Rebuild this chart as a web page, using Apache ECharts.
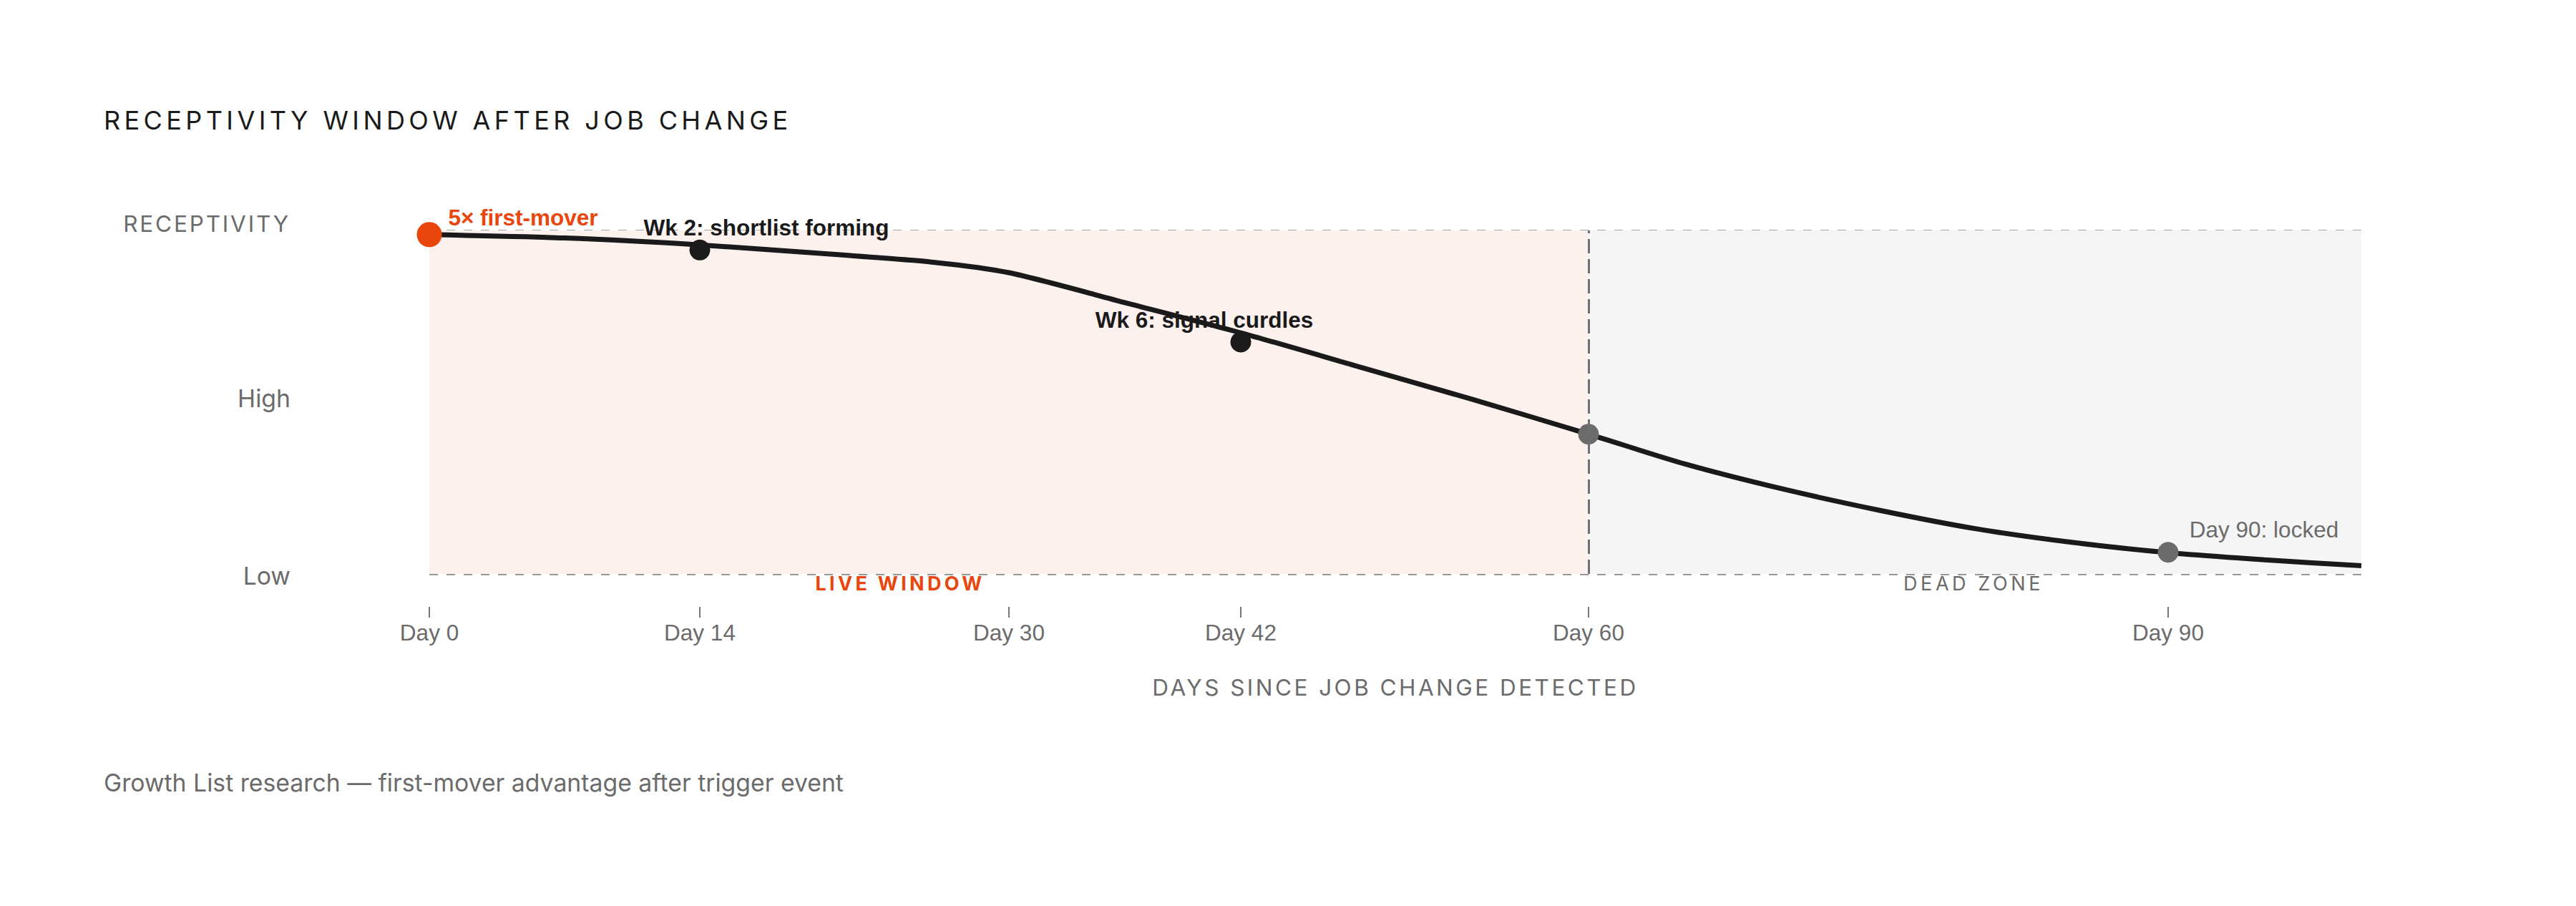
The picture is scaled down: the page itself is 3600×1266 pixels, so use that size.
<!DOCTYPE html>
<html>
<head>
<meta charset="utf-8">
<title>Receptivity window after job change</title>
<script src="https://cdn.jsdelivr.net/npm/echarts@6/dist/echarts.min.js"></script>
<style>
  html, body { margin: 0; padding: 0; background: #fff; }
  #chart { width: 3600px; height: 1266px; }
</style>
</head>
<body>
<div id="chart"></div>
<script>
// curve (day -> receptivity, 0 = Low, 50 = High, 100 = top)
const curveDays   = [0, 7, 14, 21, 26, 30, 36, 42, 48, 54, 60, 65, 70, 75, 80, 85, 90, 95, 100];
const curveValues = [98.8, 97.8, 95.8, 93.0, 90.8, 87.7, 79.0, 70.2, 60.5, 50.8, 40.7, 32.0, 24.8, 18.6, 13.2, 9.2, 6.2, 4.1, 2.4];

// highlighted points
const markerDays   = [0, 14, 42, 60, 90];
const markerValues = [98.8, 94.3, 67.5, 40.7, 6.3];
const markerLabels = ['5× first-mover', 'Wk 2: shortlist forming', 'Wk 6: signal curdles', '', 'Day 90: locked'];

const tickDays = [0, 14, 30, 42, 60, 90];
const zones = [
  {name: 'LIVE WINDOW', from: 0, to: 60},
  {name: 'DEAD ZONE', from: 60, to: 100}
];

const RED = '#e8460d';
const INK = '#1a1a1a';
const GREY = '#6b6b6b';
const SANS = 'Inter';
const ARIAL = 'Liberation Sans';

// per marker look
const markerStyle = [
  {color: RED,  size: 35, dx: 131, dy: -24, text: RED,  weight: 'bold'},
  {color: INK,  size: 29, dx: 93,  dy: -31, text: INK,  weight: 'bold'},
  {color: INK,  size: 29, dx: -51, dy: -31, text: INK,  weight: 'bold'},
  {color: GREY, size: 29, dx: 0,   dy: 0,   text: GREY, weight: 'normal'},
  {color: GREY, size: 29, dx: 134, dy: -32, text: GREY, weight: 'normal'}
];
const zoneStyle = [
  {fill: '#fdf1ee', text: RED,  weight: 'bold',   dx: -152},
  {fill: '#f5f5f5', text: GREY, weight: 'normal', dx: -2}
];

// letter spacing for the tracked caps texts (svg renderer)
const tracking = {
  'RECEPTIVITY WINDOW AFTER JOB CHANGE': '0.15em',
  'RECEPTIVITY': '0.09em',
  'DAYS SINCE JOB CHANGE DETECTED': '0.11em',
  'LIVE WINDOW': '0.16em',
  'DEAD ZONE': '0.17em'
};

const yLabelText = {fontFamily: SANS, fontSize: 33.75, color: GREY};

const chart = echarts.init(document.getElementById('chart'), null, {renderer: 'svg', width: 3600, height: 1266});

const option = {
  animation: false,
  backgroundColor: '#fff',
  title: {
    text: 'RECEPTIVITY WINDOW AFTER JOB CHANGE',
    left: 145,
    top: 148,
    padding: 0,
    textStyle: {fontFamily: SANS, fontSize: 36, fontWeight: 400, color: INK, lineHeight: 40}
  },
  graphic: [{
    type: 'text',
    x: 145,
    y: 1093,
    style: {
      text: 'Growth List research — first-mover advantage after trigger event',
      fontFamily: SANS,
      fontSize: 33.75,
      fill: GREY,
      verticalAlign: 'middle'
    }
  }],
  grid: [
    {left: 600, right: 300, top: 322, bottom: 464},
    // thin strip that only carries the day ticks below the plot
    {left: 600, right: 300, top: 847, height: 1}
  ],
  xAxis: [
    {
      type: 'value',
      gridIndex: 0,
      min: 0,
      max: 100,
      axisLine: {show: false},
      axisTick: {show: false},
      axisLabel: {show: false},
      splitLine: {show: false}
    },
    {
      type: 'value',
      gridIndex: 1,
      min: 0,
      max: 100,
      axisLine: {show: false},
      splitLine: {show: false},
      axisTick: {show: true, customValues: tickDays, length: 15, lineStyle: {color: '#777', width: 2}},
      axisLabel: {
        customValues: tickDays,
        formatter: 'Day {value}',
        margin: 20,
        fontFamily: ARIAL,
        fontSize: 31.5,
        color: GREY
      },
      name: 'DAYS SINCE JOB CHANGE DETECTED',
      nameLocation: 'middle',
      nameGap: 96,
      nameTextStyle: {fontFamily: SANS, fontSize: 31.5, color: GREY}
    }
  ],
  yAxis: [
    {
      type: 'value',
      gridIndex: 0,
      min: 0,
      max: 100,
      interval: 50,
      z: 1,
      axisLine: {show: false},
      axisTick: {show: false},
      axisLabel: {
        margin: 194,
        formatter: v => (v === 50 ? '{hi|High}' : v === 0 ? '{lo|Low}' : ''),
        rich: {
          hi: Object.assign({padding: [0, 0, 12, 0]}, yLabelText),
          lo: Object.assign({padding: [4, 0, 0, 0]}, yLabelText)
        }
      },
      splitLine: {lineStyle: {color: '#8a8a8a', width: 2.5, type: [12, 12]}},
      name: 'RECEPTIVITY',
      nameLocation: 'end',
      nameGap: 10,
      nameTextStyle: {
        fontFamily: SANS, fontSize: 31.5, color: GREY,
        align: 'right', verticalAlign: 'middle', padding: [0, 194, 0, 0]
      }
    },
    {
      type: 'value',
      gridIndex: 1,
      show: false
    }
  ],
  series: [
    {
      // zone backgrounds and the day 60 cut-off
      type: 'line',
      z: 0,
      data: [],
      silent: true,
      markArea: {
        silent: true,
        data: zones.map((zn, i) => [
          {
            xAxis: zn.from, yAxis: 0,
            itemStyle: {color: zoneStyle[i].fill},
            label: {
              show: true, formatter: zn.name, position: 'bottom', distance: 0,
              offset: [zoneStyle[i].dx, 0],
              fontFamily: SANS, fontSize: 27, fontWeight: zoneStyle[i].weight, color: zoneStyle[i].text
            }
          },
          {xAxis: zn.to, yAxis: 100}
        ])
      },
      markLine: {
        silent: true,
        symbol: 'none',
        label: {show: false},
        lineStyle: {color: '#707070', width: 3, type: [20, 8]},
        data: [{xAxis: 60}]
      }
    },
    {
      type: 'line',
      z: 2,
      smooth: 0.25,
      showSymbol: false,
      lineStyle: {color: INK, width: 7},
      data: curveDays.map((d, i) => [d, curveValues[i]])
    },
    {
      type: 'scatter',
      z: 3,
      data: markerDays.map((d, i) => {
        const s = markerStyle[i];
        return {
          value: [d, markerValues[i]],
          symbolSize: s.size,
          itemStyle: {color: s.color, opacity: 1},
          label: {
            show: markerLabels[i] !== '',
            formatter: markerLabels[i],
            position: 'inside',
            offset: [s.dx, s.dy],
            fontFamily: ARIAL,
            fontSize: 31.5,
            fontWeight: s.weight,
            color: s.text
          }
        };
      })
    }
  ]
};

chart.setOption(option);

function applyTracking() {
  document.querySelectorAll('#chart svg text').forEach(t => {
    const ls = tracking[t.textContent];
    if (ls) t.style.letterSpacing = ls;
  });
}
chart.on('rendered', applyTracking);
chart.on('finished', applyTracking);
applyTracking();
</script>
</body>
</html>
